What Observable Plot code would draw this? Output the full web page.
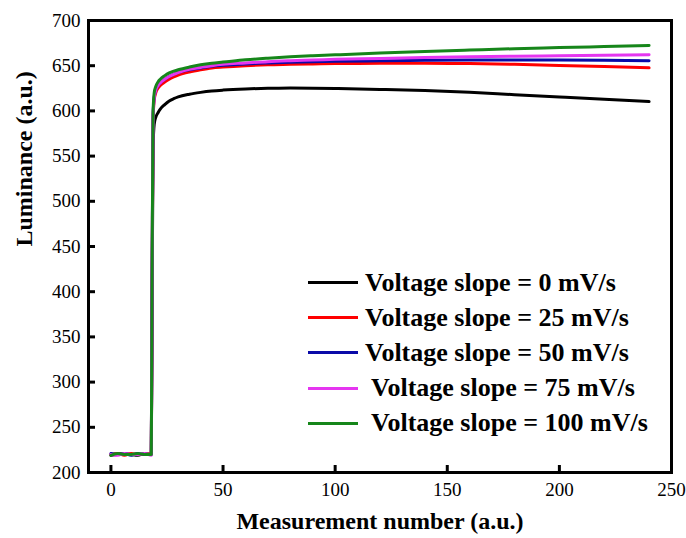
<!DOCTYPE html>
<html><head><meta charset="utf-8">
<script src="https://cdn.jsdelivr.net/npm/d3@7"></script>
<script src="https://cdn.jsdelivr.net/npm/@observablehq/plot@0.6"></script>
<style>
body{margin:0;background:#fff;}
#wrap{position:relative;width:686px;height:538px;overflow:hidden;}
#legend{position:absolute;left:308px;top:265px;font-family:"Liberation Serif",serif;font-weight:bold;font-size:26px;color:#000;}
#legend .row{display:flex;align-items:center;height:35.2px;white-space:pre;}
#legend .sw{width:50px;height:3px;margin-right:7px;flex:none;}
</style></head><body><div id="wrap"></div>
<script>
const measurement = [0,3,6,9,12,15,18,18.4,18.8,19.3,20,21,22,24,26,28,30,35,40,45,50,60,70,80,90,100,120,140,160,180,200,220,240];
const lum0 = [219,220,221,220,219,221,220,400,560,585,593,598,602,607,611,613.5,615.5,618.5,620.5,622,623,624.3,625,625.2,625,624.7,623.8,622.5,620.5,618,615.5,613,610.3];
const lum25 = [220,221,219,221,220,220,221,420,590,612,620,625,628,632,635,637.5,639.5,643,645.5,647.5,648.5,650,651,651.5,652,652.3,652.8,652.8,652.3,651.5,650.3,649,647.6];
const lum50 = [221,220,221,219,221,220,220,430,595,615,623,628,631,635,638,640.5,642.5,645.5,647.5,649.5,650.5,652,653,653.8,654.3,654.8,655.5,656,656.3,656.3,656.2,655.9,655.4];
const lum75 = [220,219,221,220,220,221,219,425,593,614,623,628,631,635,638,640.5,642.5,646,648,650,651.5,653,654.5,655.5,656.3,657,658,659,659.8,660.5,661,661.5,662];
const lum100 = [219,221,220,220,221,220,220,440,600,620,627,632,635,639,642,644,645.5,648.5,651,652.8,654,656.5,658.3,659.8,661,662,664,665.8,667.3,668.8,670,671.2,672.3];
const seriesNames = ["Voltage slope = 0 mV/s","Voltage slope = 25 mV/s","Voltage slope = 50 mV/s"," Voltage slope = 75 mV/s"," Voltage slope = 100 mV/s"];
const seriesColors = ["#000000","#ff0000","#0a0aa8","#e535f0","#16861a"];
const xTicks = [0,50,100,150,200,250];
const yTicks = [200,250,300,350,400,450,500,550,600,650,700];
const xLabel = "Measurement number (a.u.)";
const yLabel = "Luminance (a.u.)";

const allSeries = [lum0, lum25, lum50, lum75, lum100];
const rows = [];
allSeries.forEach((vals, si) => vals.forEach((v, i) => rows.push({x: measurement[i], y: v, s: seriesNames[si]})));

const serif = "Liberation Serif, Times New Roman, serif";
const chart = Plot.plot({
  width: 686, height: 538,
  marginLeft: 88, marginRight: 15, marginTop: 20, marginBottom: 66,
  style: {fontFamily: serif, background: "#fff", color: "#000"},
  x: {domain: [-10, 250]},
  y: {domain: [200, 700]},
  color: {domain: seriesNames, range: seriesColors},
  marks: [
    Plot.line(rows, {x: "x", y: "y", z: "s", stroke: "s", strokeWidth: 3, curve: "monotone-x"}),
    Plot.axisX({ticks: xTicks, tickSize: 0, tickPadding: 10, fontSize: 19, label: null}),
    Plot.axisX({ticks: xTicks, tickSize: 7, insetBottom: 7, strokeWidth: 3, tickFormat: () => "", label: null}),
    Plot.axisY({ticks: yTicks, tickSize: 0, tickPadding: 8, fontSize: 19, label: null}),
    Plot.axisY({ticks: yTicks, tickSize: 7, insetLeft: 7, strokeWidth: 3, tickFormat: () => "", label: null}),
    Plot.frame({stroke: "#000", strokeWidth: 3}),
    Plot.text([yLabel], {text: d => d, frameAnchor: "left", dx: -64, rotate: -90, fontSize: 24, fontWeight: "bold", fontFamily: serif}),
    Plot.text([xLabel], {text: d => d, frameAnchor: "bottom", dy: 56, fontSize: 24, fontWeight: "bold", fontFamily: serif})
  ]
});
const wrap = document.getElementById("wrap");
wrap.appendChild(chart);
const leg = document.createElement("div");
leg.id = "legend";
seriesNames.forEach((n, i) => {
  const r = document.createElement("div"); r.className = "row";
  const sw = document.createElement("span"); sw.className = "sw"; sw.style.background = seriesColors[i];
  const t = document.createElement("span"); t.textContent = n;
  r.appendChild(sw); r.appendChild(t); leg.appendChild(r);
});
wrap.appendChild(leg);
</script></body></html>
